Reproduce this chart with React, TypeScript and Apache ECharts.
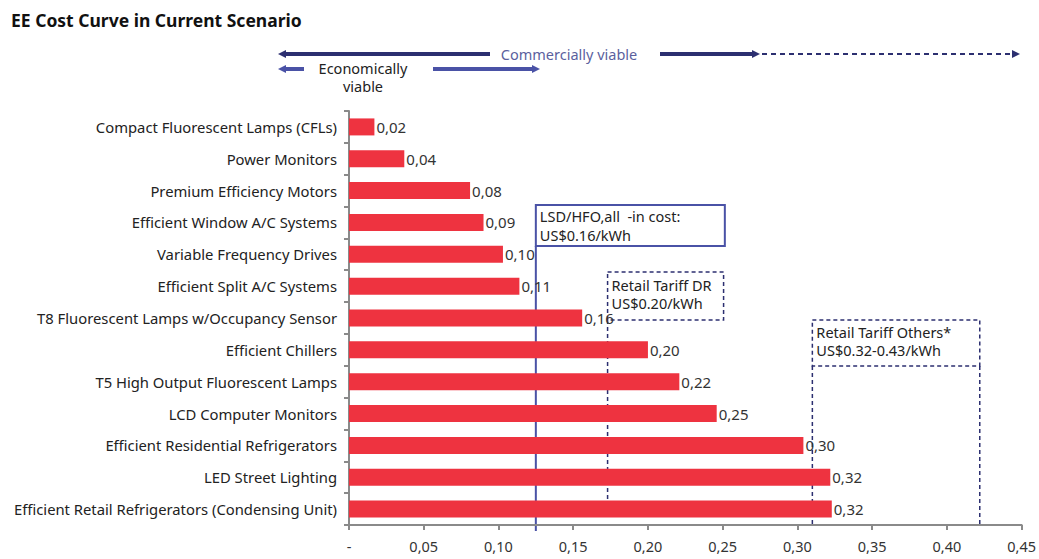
import React, { useEffect, useRef } from "react";
import * as echarts from "echarts";

// Measures, top to bottom
const measures = [
  "Compact Fluorescent Lamps (CFLs)",
  "Power Monitors",
  "Premium Efficiency Motors",
  "Efficient Window A/C Systems",
  "Variable Frequency Drives",
  "Efficient Split A/C Systems",
  "T8 Fluorescent Lamps w/Occupancy Sensor",
  "Efficient Chillers",
  "T5 High Output Fluorescent Lamps",
  "LCD Computer Monitors",
  "Efficient Residential Refrigerators",
  "LED Street Lighting",
  "Efficient Retail Refrigerators (Condensing Unit)",
];

// Cost of saved energy, US$/kWh
const costs = [0.017, 0.037, 0.081, 0.09, 0.103, 0.114, 0.156, 0.2, 0.221, 0.246, 0.304, 0.322, 0.323];

// Reference cost lines on the value axis
const dieselLine = 0.125;
const tariffDrLine = 0.173;
const tariffOthersRange = [0.31, 0.422];

const xTicks = { min: 0, max: 0.45, interval: 0.05 };

const FONT = "'Noto Sans', sans-serif";
const NAVY = "#2c2f70";
const BLUE = "#4a52a6";
const RED = "#ee3340";

const fmt = (v: number) => (v === 0 ? "-" : v.toFixed(2).replace(".", ","));

export default function App() {
  const ref = useRef<HTMLDivElement>(null);

  useEffect(() => {
    const chart = echarts.init(ref.current!, undefined, { renderer: "svg" });
    chart.setOption({
      animation: false,
      textStyle: { fontFamily: FONT },
      title: {
        text: "EE Cost Curve in Current Scenario",
        left: 6,
        top: 6,
        textStyle: { fontFamily: FONT, fontSize: 17.5, fontWeight: "bold", color: "#111" },
      },
      grid: { left: 349, right: 17, top: 111, bottom: 34, containLabel: false },
      xAxis: {
        type: "value",
        min: xTicks.min,
        max: xTicks.max,
        interval: xTicks.interval,
        splitLine: { show: false },
        axisLine: { show: true, lineStyle: { color: "#8a8a8a", width: 2 } },
        axisTick: { show: true, length: 5, lineStyle: { color: "#8a8a8a", width: 2 } },
        axisLabel: { formatter: fmt, color: "#333", fontSize: 14.5, margin: 13, fontFamily: FONT },
      },
      yAxis: {
        type: "category",
        inverse: true,
        data: measures,
        axisLine: { show: true, lineStyle: { color: "#8a8a8a", width: 2 } },
        axisTick: { show: true, length: 5, lineStyle: { color: "#8a8a8a", width: 2 } },
        axisLabel: { color: "#222", fontSize: 14.8, margin: 12, fontFamily: FONT },
      },
      series: [
        {
          type: "bar",
          data: costs,
          barWidth: 17,
          itemStyle: { color: RED },
          label: {
            show: true,
            position: "right",
            distance: 2,
            color: "#333",
            fontSize: 15,
            fontFamily: FONT,
            formatter: (p: any) => fmt(p.value),
          },
        },
      ],
    });

    const px = (v: number) => chart.convertToPixel({ xAxisIndex: 0 }, v) as number;
    const xd = px(dieselLine);
    const xr = px(tariffDrLine);
    const xo1 = px(tariffOthersRange[0]);
    const xo2 = px(tariffOthersRange[1]);

    const txt = (x: number, y: number, text: string, color = "#222", size = 14.5, align = "left") => ({
      type: "text",
      x,
      y,
      style: { text, fill: color, font: `${size}px ${FONT}`, textAlign: align, textVerticalAlign: "middle" },
    });
    const seg = (x1: number, y1: number, x2: number, y2: number, color: string, width: number, dash?: number[]) => ({
      type: "line",
      shape: { x1, y1, x2, y2 },
      style: { stroke: color, lineWidth: width, lineDash: dash },
    });
    const headL = (x: number, y: number, color: string) => ({
      type: "polygon",
      shape: { points: [[x, y], [x + 8, y - 4], [x + 8, y + 4]] },
      style: { fill: color },
    });
    const headR = (x: number, y: number, color: string) => ({
      type: "polygon",
      shape: { points: [[x, y], [x - 8, y - 4], [x - 8, y + 4]] },
      style: { fill: color },
    });
    const box = (x: number, y: number, w: number, h: number, color: string, width: number, dash?: number[]) => ({
      type: "rect",
      shape: { x, y, width: w, height: h },
      style: { fill: "#fff", stroke: color, lineWidth: width, lineDash: dash },
    });

    chart.setOption({
      graphic: [
        // viability arrows
        seg(284, 54, 490, 54, NAVY, 4),
        headL(278, 54, NAVY),
        txt(569, 54, "Commercially viable", "#5b5f9e", 14.5, "center"),
        seg(660, 54, 752, 54, NAVY, 4),
        headR(760, 54, NAVY),
        seg(762, 54, 1012, 54, NAVY, 2, [5, 4]),
        headR(1020, 54, NAVY),
        seg(284, 69, 304, 69, BLUE, 4),
        headL(278, 69, BLUE),
        txt(363, 68, "Economically", "#222", 14.5, "center"),
        txt(363, 86, "viable", "#222", 14.5, "center"),
        seg(433, 69, 532, 69, BLUE, 4),
        headR(540, 69, BLUE),

        // reference lines
        seg(xd, 246, xd, 531, BLUE, 2),
        seg(xr, 320, xr, 512, NAVY, 1.5, [4, 3]),
        seg(xo1, 366, xo1, 527, NAVY, 1.5, [4, 3]),
        seg(xo2, 366, xo2, 527, NAVY, 1.5, [4, 3]),

        // annotation boxes
        box(xd, 205, 189, 41, BLUE, 2),
        txt(xd + 4, 216, "LSD/HFO,all  -in cost:"),
        txt(xd + 4, 235, "US$0.16/kWh"),
        box(xr, 272, 116, 48, NAVY, 1.5, [4, 3]),
        txt(xr + 4, 285, "Retail Tariff DR"),
        txt(xr + 4, 303, "US$0.20/kWh"),
        box(xo1, 320, xo2 - xo1, 46, NAVY, 1.5, [4, 3]),
        txt(xo1 + 4, 332, "Retail Tariff Others*"),
        txt(xo1 + 4, 350, "US$0.32-0.43/kWh"),
      ],
    });

    return () => chart.dispose();
  }, []);

  return (
    <div
      ref={ref}
      style={{ position: "fixed", left: 0, top: 0, width: 1039, height: 559, background: "#fff" }}
    />
  );
}
